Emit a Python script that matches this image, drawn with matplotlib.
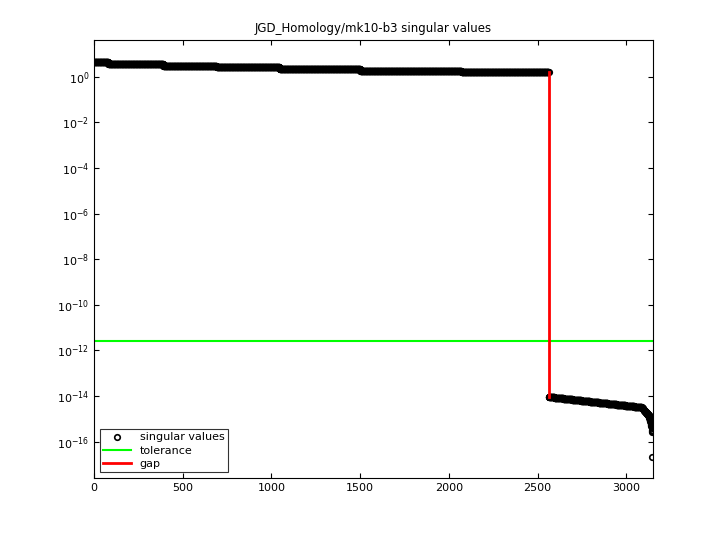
import numpy as np
import matplotlib
matplotlib.use("Agg")
import matplotlib.pyplot as plt

# upper singular values: stepwise levels (index breakpoints, level values)
upper_breaks = [0, 80, 390, 690, 1045, 1500, 2070, 2562]
upper_levels = [4.3, 3.8, 3.1, 2.7, 2.25, 1.85, 1.7]
# lower tail anchors (index, log10 value)
tail_idx = [2562, 3085, 3125, 3140, 3145, 3146]
tail_log = [-14.04, -14.5, -14.85, -15.3, -15.6, -16.7]
tolerance = 2.5e-12
gap_index = 2562

sv = []
for i in range(len(upper_levels)):
    sv.append(np.full(upper_breaks[i + 1] - upper_breaks[i], upper_levels[i]))
for i in range(len(tail_idx) - 1):
    n = tail_idx[i + 1] - tail_idx[i]
    sv.append(np.logspace(tail_log[i], tail_log[i + 1], n, endpoint=False))
sv.append(np.array([10 ** tail_log[-1]]))
sv = np.concatenate(sv)
x = np.arange(1, len(sv) + 1)

fig = plt.figure(figsize=(7.2, 5.4), dpi=100)
ax = fig.add_axes([94 / 720, 62 / 540, 559 / 720, 438 / 540])
ax.semilogy(x, sv, 'o', mfc='none', mec='black', ms=4, mew=1.2, label='singular values')
ax.axhline(tolerance, color='#00ff00', lw=1.5, label='tolerance')
ax.plot([gap_index, gap_index], [sv[gap_index - 1], sv[gap_index]], color='red', lw=2, label='gap')
ax.set_xlim(0, 3150)
ax.set_ylim(10 ** -17.6, 10 ** 1.62)
ax.set_yticks([10.0 ** k for k in range(0, -17, -2)])
ax.minorticks_off()
ax.set_xticks([0, 500, 1000, 1500, 2000, 2500, 3000])
ax.tick_params(direction='in', top=True, right=True, labelsize=8)
ax.set_title('JGD_Homology/mk10-b3 singular values', fontsize=8.5)
leg = ax.legend(loc='lower left', fontsize=8, fancybox=False, edgecolor='black',
                handlelength=2.5, borderpad=0.3, labelspacing=0.3)
leg.get_frame().set_linewidth(0.8)
fig.savefig('out.png', dpi=100)
